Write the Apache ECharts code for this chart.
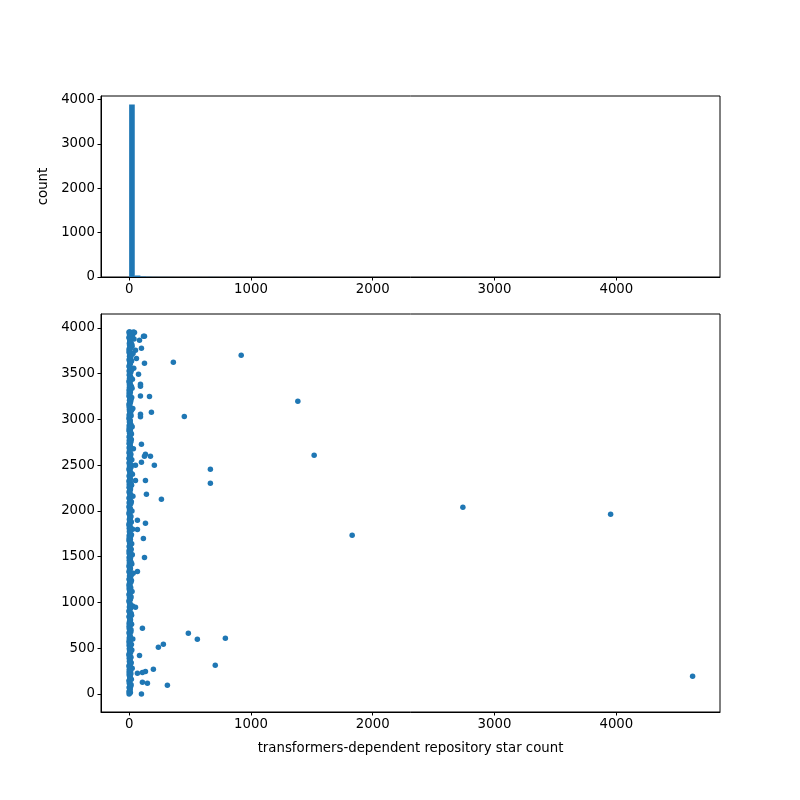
<!DOCTYPE html>
<html><head><meta charset="utf-8">
<script src="https://cdn.jsdelivr.net/npm/echarts@6/dist/echarts.min.js"></script>
<style>html,body{margin:0;padding:0;background:#fff}#c{width:800px;height:800px}</style>
</head><body><div id="c"></div>
<script>
// Histogram: bin width (max star count / 100 bins), non-empty bin indices and counts
const binWidth = 46.2;
const histBins   = [0, 1, 2, 3, 4, 5, 6, 7, 9, 10, 12, 14, 15, 17, 19, 29, 32, 39, 59, 85, 99];
const histCounts = [3887, 34, 12, 6, 3, 2, 2, 1, 1, 1, 1, 2, 1, 1, 1, 1, 1, 1, 1, 1, 1];

// Scatter: dense column of low-star repositories [stars, index]
const corePoints = [
  [0,0],[4,40],[12,80],[2,120],[18,160],[7,200],[0,240],[25,280],[10,320],[3,360],
  [15,400],[1,440],[22,480],[8,520],[0,560],[30,600],[5,640],[14,680],[2,720],[20,760],
  [9,800],[0,840],[17,880],[6,920],[28,960],[3,1000],[11,1040],[0,1080],[24,1120],[13,1160],
  [1,1200],[19,1240],[7,1280],[33,1320],[4,1360],[0,1400],[16,1440],[10,1480],[26,1520],[2,1560],
  [8,1600],[21,1640],[0,1680],[12,1720],[5,1760],[29,1800],[1,1840],[18,1880],[9,1920],[3,1960],
  [23,2000],[0,2040],[14,2080],[6,2120],[31,2160],[2,2200],[11,2240],[20,2280],[0,2320],[8,2360],
  [27,2400],[4,2440],[15,2480],[1,2520],[22,2560],[10,2600],[0,2640],[35,2680],[6,2720],[13,2760],
  [3,2800],[19,2840],[0,2880],[25,2920],[9,2960],[2,3000],[16,3040],[7,3080],[30,3120],[1,3160],
  [12,3200],[21,3240],[4,3280],[0,3320],[18,3360],[8,3400],[27,3440],[3,3480],[14,3520],[38,3560],
  [5,3600],[20,3640],[10,3680],[32,3720],[2,3760],[24,3800],[15,3840],[40,3880],[28,3920],[36,3955],
  [0,3955],[10,3930],[20,3900]
];
const corePoints2 = [
  [10,15],[0,20],[6,60],[16,100],[0,140],[9,180],[14,220],[3,260],[0,300],[17,340],
  [6,380],[0,420],[12,460],[4,500],[19,540],[0,580],[9,620],[2,660],[15,700],[0,740],
  [11,780],[5,820],[20,860],[0,900],[13,940],[7,980],[0,1020],[16,1060],[4,1100],[9,1140],
  [0,1180],[14,1220],[2,1260],[18,1300],[0,1340],[8,1380],[22,1420],[1,1460],[12,1500],[0,1540],
  [17,1580],[5,1620],[10,1660],[0,1700],[19,1740],[3,1780],[12,1820],[0,1860],[7,1900],[15,1940],
  [0,1980],[10,2020],[4,2060],[18,2100],[0,2140],[12,2180],[5,2220],[0,2260],[16,2300],[9,2340],
  [1,2380],[13,2420],[0,2460],[20,2500],[6,2540],[0,2580],[14,2620],[3,2660],[10,2700],[0,2740],
  [18,2780],[7,2820],[12,2860],[0,2900],[16,2940],[4,2980],[0,3020],[11,3060],[20,3100],[0,3140],
  [8,3180],[15,3220],[0,3260],[10,3300],[24,3340],[2,3380],[0,3420],[14,3460],[6,3500],[19,3540],
  [0,3580],[11,3620],[3,3660],[17,3700],[0,3740],[12,3780],[22,3820],[6,3860],[0,3900],[18,3940]
];
const corePoints3 = [
  [5,10],[2,30],[8,50],[0,70],[11,90],[3,110],[6,130],[1,150],[9,170],[4,190],
  [0,210],[7,230],[12,250],[2,270],[5,290],[0,310],[10,330],[3,350],[8,370],[1,390],
  [6,410],[0,430],[11,450],[4,470],[2,490],[9,510],[0,530],[6,550],[3,570],[12,590],
  [1,610],[7,630],[4,650],[0,670],[10,690],[2,710],[5,730],[8,750],[0,770],[3,790],
  [11,810],[6,830],[1,850],[9,870],[4,890],[0,910],[7,930],[2,950],[12,970],[5,990],
  [0,1010],[8,1030],[3,1050],[10,1070],[1,1090],[6,1110],[4,1130],[0,1150],[9,1170],[2,1190],
  [7,1210],[5,1230],[0,1250],[11,1270],[3,1290],[8,1310],[1,1330],[6,1350],[10,1370],[0,1390],
  [4,1410],[2,1430],[9,1450],[5,1470],[0,1490],[7,1510],[3,1530],[12,1550],[1,1570],[6,1590],
  [0,1610],[8,1630],[4,1650],[2,1670],[10,1690],[5,1710],[0,1730],[7,1750],[3,1770],[9,1790],
  [1,1810],[6,1830],[0,1850],[11,1870],[4,1890],[2,1910],[8,1930],[5,1950],[0,1970],[10,1990],
  [3,2010],[7,2030],[1,2050],[6,2070],[0,2090],[9,2110],[4,2130],[2,2150],[12,2170],[5,2190],
  [0,2210],[8,2230],[3,2250],[10,2270],[1,2290],[6,2310],[0,2330],[7,2350],[4,2370],[2,2390],
  [9,2410],[5,2430],[0,2450],[11,2470],[3,2490],[8,2510],[1,2530],[6,2550],[0,2570],[10,2590],
  [4,2610],[2,2630],[7,2650],[5,2670],[0,2690],[9,2710],[3,2730],[12,2750],[1,2770],[6,2790],
  [0,2810],[8,2830],[4,2850],[2,2870],[10,2890],[5,2910],[0,2930],[7,2950],[3,2970],[9,2990],
  [1,3010],[6,3030],[0,3050],[11,3070],[4,3090],[2,3110],[8,3130],[5,3150],[0,3170],[10,3190],
  [3,3210],[7,3230],[1,3250],[6,3270],[0,3290],[9,3310],[4,3330],[2,3350],[12,3370],[5,3390],
  [0,3410],[8,3430],[3,3450],[10,3470],[1,3490],[6,3510],[0,3530],[7,3550],[4,3570],[2,3590],
  [9,3610],[5,3630],[0,3650],[11,3670],[3,3690],[8,3710],[1,3730],[6,3750],[0,3770],[10,3790],
  [4,3810],[2,3830],[7,3850],[5,3870],[0,3890],[9,3910],[3,3930],[12,3945],[1,3950],[6,3955]
];
// Scatter: outlying repositories [stars, index]
const outlierPoints = [
  [920,3702],[363,3625],[1385,3199],[453,3033],[1519,2609],[667,2456],[667,2303],[265,2128],
  [207,2500],[175,2598],[134,2620],[126,2598],[101,2532],[183,3079],[167,3252],[93,3057],
  [93,3031],[93,3385],[93,3363],[93,3257],[101,2728],[77,3494],[126,3614],[101,3778],
  [126,3909],[118,3909],[85,3865],[60,3667],[52,3756],[44,3952],[142,2183],[134,2334],
  [52,2334],[52,2500],[1831,1734],[2740,2040],[3953,1964],[4626,193],[134,1865],[68,1897],
  [68,1798],[117,1700],[126,1492],[68,1339],[52,947],[109,717],[486,662],[560,597],
  [790,608],[240,510],[281,543],[85,421],[707,312],[199,268],[134,246],[109,235],
  [68,225],[109,128],[150,117],[314,95],[101,0]
];

const xTicks = [0, 1000, 2000, 3000, 4000];
const histYTicks = [0, 1000, 2000, 3000, 4000];
const scatterYTicks = [0, 500, 1000, 1500, 2000, 2500, 3000, 3500, 4000];

const C = '#1f77b4';
const font = 'DejaVu Sans';
const histData = histBins.map((b, i) => [b * binWidth, (b + 1) * binWidth, histCounts[i]]);

function axisCommon(ticks) {
  return {
    axisLine: {show: true, onZero: false, lineStyle: {color: '#000', width: 1}},
    axisTick: {show: true, inside: false, length: 3.5, lineStyle: {color: '#000', width: 1}, customValues: ticks},
    axisLabel: {show: true, color: '#000', fontFamily: font, fontSize: 13.3, margin: 6, customValues: ticks,
      formatter: v => String(v)},
    splitLine: {show: false}
  };
}

const chart = echarts.init(document.getElementById('c'), null, {renderer: 'canvas'});
const scatterStyle = {color: C, opacity: 1};
function scat(data) {
  return {type: 'scatter', xAxisIndex: 1, yAxisIndex: 1, data: data, symbolSize: 5.5, itemStyle: scatterStyle};
}
chart.setOption({
  animation: false,
  backgroundColor: '#fff',
  grid: [
    {left: 101, top: 96, width: 619, height: 181, show: true, borderColor: '#000', borderWidth: 1, backgroundColor: 'transparent', containLabel: false},
    {left: 101, top: 314, width: 619, height: 398, show: true, borderColor: '#000', borderWidth: 1, backgroundColor: 'transparent', containLabel: false}
  ],
  xAxis: [
    Object.assign({type: 'value', gridIndex: 0, min: -231, max: 4851}, axisCommon(xTicks)),
    Object.assign({type: 'value', gridIndex: 1, min: -231, max: 4851,
      name: 'transformers-dependent repository star count', nameLocation: 'middle', nameGap: 30,
      nameTextStyle: {color: '#000', fontFamily: font, fontSize: 13.3}}, axisCommon(xTicks))
  ],
  yAxis: [
    Object.assign({type: 'value', gridIndex: 0, min: 0, max: 4081,
      name: 'count', nameLocation: 'middle', nameGap: 49, nameRotate: 90,
      nameTextStyle: {color: '#000', fontFamily: font, fontSize: 13.3}}, axisCommon(histYTicks)),
    Object.assign({type: 'value', gridIndex: 1, min: -198, max: 4153}, axisCommon(scatterYTicks))
  ],
  series: [
    {
      type: 'custom', xAxisIndex: 0, yAxisIndex: 0, data: histData, z: 1,
      renderItem: function (params, api) {
        const p0 = api.coord([api.value(0), api.value(2)]);
        const p1 = api.coord([api.value(1), 0]);
        return {type: 'rect', shape: {x: p0[0], y: p0[1], width: p1[0] - p0[0], height: p1[1] - p0[1]},
          style: {fill: C, stroke: 'none', lineWidth: 0}};
      }
    },
    scat(corePoints3),
    scat(corePoints),
    scat(corePoints2),
    scat(outlierPoints)
  ]
});
</script>
</body></html>
